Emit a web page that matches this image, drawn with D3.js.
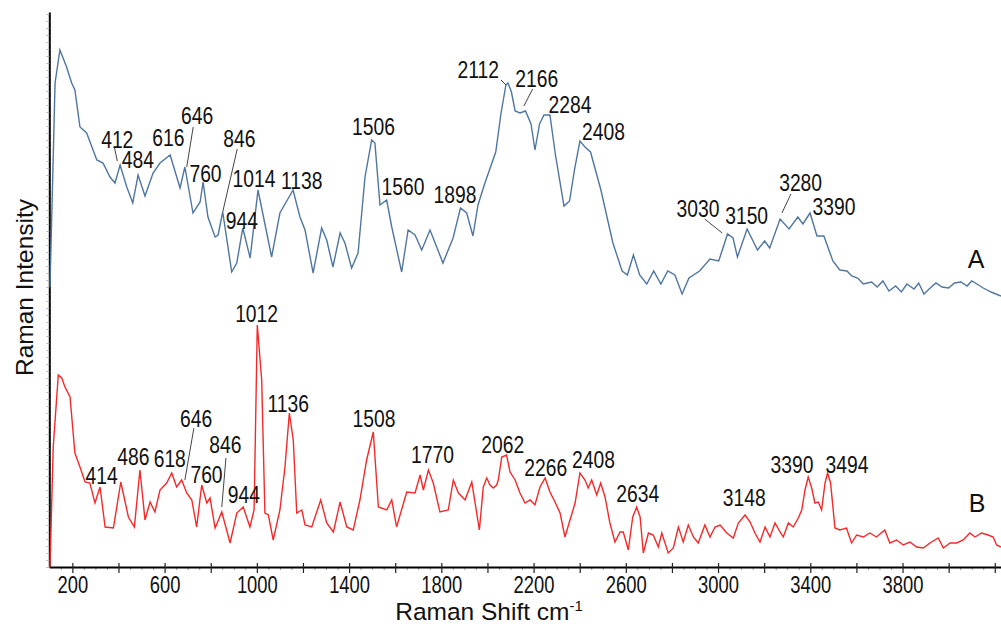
<!DOCTYPE html>
<html>
<head>
<meta charset="utf-8">
<script src="https://cdn.jsdelivr.net/npm/d3@7"></script>
<style>
body { margin: 0; background: #fff; }
#visual { width: 1001px; height: 626px; }
.num { font-family: "Liberation Sans", Arial, sans-serif; font-size: 23px; fill: #111; }
.title { font-family: "Liberation Sans", Arial, sans-serif; font-size: 24.5px; fill: #111; }
</style>
</head>
<body>
<div id="visual"></div>
<script>
// spectrum A (top, blue) - Raman shift (cm-1) and intensity (a.u.)
var shiftA = [
    103, 125, 146, 175, 197, 211, 233, 262, 306, 333,
    363, 385, 407, 436, 462, 485, 515, 550, 580, 624,
    667, 688, 723, 754, 767, 788, 819, 832, 852, 891,
    913, 939, 971, 1005, 1043, 1064, 1100, 1157, 1187, 1209,
    1244, 1281, 1303, 1330, 1361, 1382, 1411, 1439, 1469, 1498,
    1512, 1534, 1563, 1585, 1628, 1656, 1686, 1715, 1751, 1780,
    1807, 1851, 1883, 1910, 1937, 1959, 1989, 2036, 2059, 2080,
    2089, 2104, 2120, 2141, 2165, 2189, 2206, 2226, 2245, 2271,
    2295, 2332, 2356, 2378, 2401, 2423, 2447, 2492, 2544, 2584,
    2607, 2633, 2660, 2691, 2721, 2752, 2782, 2813, 2844, 2874,
    2920, 2965, 3003, 3041, 3065, 3084, 3126, 3171, 3202, 3224,
    3269, 3308, 3346, 3368, 3399, 3429, 3459, 3498, 3528, 3559,
    3580, 3605, 3630, 3666, 3690, 3715, 3741, 3770, 3795, 3819,
    3850, 3870, 3893, 3920, 3945, 3971, 4000, 4025, 4053, 4080,
    4100, 4123, 4150, 4184, 4227
];
var intensityA = [
    280, 484, 517, 500, 484, 477, 440, 434, 407, 404,
    390, 384, 402, 380, 364, 392, 371, 394, 404, 412,
    379, 400, 354, 365, 385, 350, 330, 332, 355, 295,
    304, 339, 309, 377, 334, 310, 354, 377, 350, 337,
    294, 339, 327, 300, 334, 324, 299, 314, 390, 427,
    424, 362, 367, 340, 295, 337, 332, 317, 337, 320,
    304, 329, 359, 354, 331, 362, 384, 415, 454, 482,
    484, 475, 456, 454, 456, 443, 417, 443, 452, 452,
    412, 361, 366, 398, 426, 420, 415, 377, 324, 296,
    292, 312, 292, 283, 296, 283, 296, 292, 273, 289,
    296, 308, 306, 333, 329, 310, 338, 317, 326, 319,
    348, 338, 350, 343, 354, 331, 331, 306, 297, 296,
    291, 289, 283, 285, 280, 286, 276, 281, 275, 283,
    278, 284, 273, 279, 284, 280, 279, 284, 285, 281,
    286, 283, 279, 275, 271
];

// spectrum B (bottom, red)
var shiftB = [
    103, 117, 139, 154, 168, 190, 211, 233, 255, 276,
    298, 320, 342, 378, 410, 443, 469, 493, 515, 537,
    558, 580, 609, 631, 652, 674, 696, 718, 739, 761,
    783, 797, 819, 848, 884, 913, 941, 970, 988, 1002,
    1021, 1035, 1050, 1071, 1100, 1122, 1141, 1158, 1173, 1195,
    1209, 1238, 1277, 1303, 1332, 1361, 1390, 1418, 1447, 1476,
    1505, 1527, 1563, 1585, 1606, 1650, 1686, 1708, 1722, 1744,
    1765, 1794, 1830, 1852, 1874, 1903, 1932, 1965, 1982, 1997,
    2011, 2025, 2040, 2047, 2062, 2083, 2098, 2120, 2141, 2163,
    2185, 2206, 2228, 2250, 2271, 2293, 2315, 2336, 2358, 2380,
    2401, 2423, 2437, 2452, 2474, 2491, 2510, 2531, 2553, 2575,
    2589, 2611, 2630, 2647, 2662, 2676, 2698, 2719, 2741, 2756,
    2784, 2806, 2828, 2849, 2871, 2893, 2914, 2943, 2965, 2987,
    3009, 3038, 3066, 3088, 3117, 3139, 3160, 3182, 3204, 3225,
    3247, 3269, 3283, 3305, 3326, 3348, 3363, 3377, 3391, 3406,
    3420, 3435, 3449, 3464, 3475, 3488, 3507, 3528, 3557, 3579,
    3601, 3630, 3658, 3687, 3723, 3745, 3774, 3803, 3832, 3861,
    3890, 3919, 3955, 3977, 4006, 4035, 4063, 4092, 4114, 4143,
    4171, 4193, 4208, 4227
];
var intensityB = [
    0, 120, 192, 189, 180, 170, 114, 100, 85, 84,
    64, 80, 40, 39, 85, 50, 40, 97, 47, 65,
    55, 77, 84, 94, 80, 87, 74, 67, 40, 82,
    64, 69, 39, 55, 24, 54, 60, 40, 57, 242,
    187, 54, 52, 27, 57, 100, 154, 127, 54, 57,
    42, 40, 67, 44, 35, 65, 40, 37, 67, 107,
    135, 60, 57, 67, 40, 75, 74, 92, 77, 97,
    84, 55, 57, 87, 74, 67, 85, 37, 80, 89,
    82, 79, 82, 87, 110, 112, 95, 87, 74, 64,
    67, 62, 80, 89, 75, 65, 54, 30, 47, 64,
    94, 87, 79, 87, 72, 84, 70, 44, 25, 35,
    35, 17, 50, 60, 50, 14, 34, 32, 20, 34,
    14, 19, 40, 25, 42, 30, 24, 42, 30, 40,
    42, 34, 29, 44, 52, 45, 34, 25, 40, 30,
    44, 35, 30, 44, 40, 49, 57, 77, 90, 79,
    64, 65, 57, 84, 94, 84, 39, 37, 39, 24,
    32, 30, 34, 30, 37, 24, 27, 22, 25, 20,
    19, 24, 29, 19, 24, 24, 27, 34, 30, 34,
    32, 30, 22, 20
];

// peak annotations
var peaksA = [412, 484, 616, 646, 760, 846, 1014, 944, 1138, 1506, 1560, 1898, 2112, 2166, 2284, 2408, 3030, 3150, 3280, 3390];
var peaksB = [414, 486, 618, 646, 760, 846, 944, 1012, 1136, 1508, 1770, 2062, 2266, 2408, 2634, 3148, 3390, 3494];

var tickLabels = [200, 600, 1000, 1400, 1800, 2200, 2600, 3000, 3400, 3800];

// label layout: [dx px from peak, baseline level in intensity units]
var labelPosA = [[-4, 419], [0, 399], [0, 421], [22, 443], [4, 385], [18, 420], [-6, 380], [-2, 338], [13, 378], [0, 432],
    [17, 372], [-9, 364], [-35, 489], [11, 480], [17, 454], [22, 427], [-27, 350], [-6, 343], [18, 376], [26, 352]];
var labelPosB = [[-20, 83], [-5, 102], [1, 100], [21, 140], [5, 84], [4, 114], [0, 64], [-3, 245], [0, 155], [0, 140],
    [-2, 104], [1, 114], [-3, 91], [12, 99], [4, 65], [-8, 61], [-16, 94], [15, 94]];
// leader lines [shift1, level1, shift2, level2]
var leaders = [[382, 420, 395, 406], [724, 440, 696, 400], [915, 418, 852, 355], [2059, 487, 2080, 482],
    [2196, 478, 2158, 461], [2942, 348, 3018, 334], [3316, 373, 3277, 354],
    [727, 139, 688, 87], [866, 109, 848, 60]];

var width = 1001, height = 626;
var squeeze = 0.84; // the figure's digits are a narrow face

var svg = d3.select('#visual')
    .append('svg')
    .attr('width', width)
    .attr('height', height);

var x_scale = d3.scaleLinear()
    .domain([100, 4227])
    .range([49.3, 1001]);

var y_scale = d3.scaleLinear()
    .domain([0, 555])
    .range([567, 12]);

// left axis: fine grey ticks, no labels
var y_axis = d3.axisLeft(y_scale)
    .tickValues(d3.range(0, 556, 7))
    .tickSize(3)
    .tickSizeOuter(0)
    .tickFormat('');
var gy = svg.append('g')
    .attr('transform', 'translate(49.3,0)')
    .call(y_axis);
gy.selectAll('.tick line').attr('stroke', '#bbb');
gy.select('.domain').attr('stroke', '#000').attr('stroke-width', 2);

// bottom axis minor ticks
var minor = d3.range(150, 4227, 50).filter(function (d) { return d % 200 != 0; });
var gxm = svg.append('g')
    .attr('transform', 'translate(0,567)')
    .call(d3.axisBottom(x_scale).tickValues(minor).tickSize(3).tickSizeOuter(0).tickFormat(''));
gxm.selectAll('.tick line').attr('stroke', '#999');
gxm.select('.domain').remove();

// bottom axis major ticks + labels
var x_axis = d3.axisBottom(x_scale)
    .tickValues(d3.range(200, 4201, 200))
    .tickSize(6)
    .tickSizeOuter(0)
    .tickFormat(function (d) { return tickLabels.indexOf(d) >= 0 ? d : ''; });
var gx = svg.append('g')
    .attr('transform', 'translate(0,567)')
    .call(x_axis);
gx.select('.domain').attr('stroke', '#000').attr('stroke-width', 2);
gx.selectAll('.tick line').attr('y1', -4).attr('stroke', '#222').attr('stroke-width', 1.2);
gx.selectAll('.tick text')
    .attr('y', 26.3)
    .attr('dy', 0)
    .attr('transform', 'scale(0.8,1)')
    .style('font-size', '23px')
    .style('font-family', '"Liberation Sans", Arial, sans-serif')
    .attr('fill', '#111');

var line = d3.line()
    .x(function (d) { return x_scale(d[0]); })
    .y(function (d) { return y_scale(d[1]); });

svg.append('path')
    .datum(d3.zip(shiftA, intensityA))
    .attr('d', line)
    .attr('fill', 'none')
    .attr('stroke', '#4f76a0')
    .attr('stroke-width', 1.4);

svg.append('path')
    .datum(d3.zip(shiftB, intensityB))
    .attr('d', line)
    .attr('fill', 'none')
    .attr('stroke', '#f42a2a')
    .attr('stroke-width', 1.4);

// leader lines
svg.selectAll('.leader')
    .data(leaders)
    .enter().append('line')
    .attr('class', 'leader')
    .attr('x1', function (d) { return x_scale(d[0]); })
    .attr('y1', function (d) { return y_scale(d[1]); })
    .attr('x2', function (d) { return x_scale(d[2]); })
    .attr('y2', function (d) { return y_scale(d[3]); })
    .attr('stroke', '#444')
    .attr('stroke-width', 1);

function annotate(peaks, pos) {
    svg.append('g').selectAll('text')
        .data(peaks)
        .enter().append('text')
        .attr('class', 'num')
        .attr('text-anchor', 'middle')
        .attr('transform', function (d, i) {
            return 'translate(' + (x_scale(d) + pos[i][0]) + ',' + y_scale(pos[i][1]) + ') scale(' + squeeze + ',1)';
        })
        .text(function (d) { return d; });
}
annotate(peaksA, labelPosA);
annotate(peaksB, labelPosB);

// series letters
svg.append('text').attr('class', 'title').attr('x', 976).attr('y', 268)
    .attr('text-anchor', 'middle').style('font-size', '25px').text('A');
svg.append('text').attr('class', 'title').attr('x', 977).attr('y', 512)
    .attr('text-anchor', 'middle').style('font-size', '25px').text('B');

// axis titles
var xt = svg.append('text').attr('class', 'title')
    .attr('x', 489).attr('y', 620).attr('text-anchor', 'middle');
xt.append('tspan').text('Raman Shift cm');
xt.append('tspan').attr('dy', -9).style('font-size', '15px').text('-1');

svg.append('text').attr('class', 'title')
    .attr('transform', 'translate(33.3,287.5) rotate(-90)')
    .attr('text-anchor', 'middle')
    .text('Raman Intensity');
</script>
</body>
</html>
